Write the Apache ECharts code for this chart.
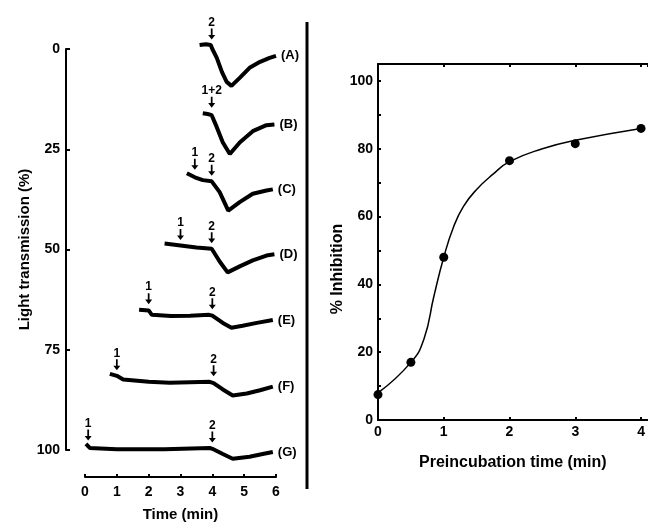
<!DOCTYPE html>
<html><head><meta charset="utf-8">
<script src="https://cdn.jsdelivr.net/npm/echarts@6/dist/echarts.min.js"></script>
<style>html,body{margin:0;padding:0;background:#fff}#c{width:648px;height:527px}</style>
</head><body><div id="c"></div>
<script>
// ---- Left panel: light transmission traces (time in min, transmission in %) ----
const traceLabels = ['(A)', '(B)', '(C)', '(D)', '(E)', '(F)', '(G)'];
const traceA = [[3.6,-1],[3.8,-1.2],[3.95,-1],[4.0,0],[4.14,2.2],[4.3,5.7],[4.45,8.2],[4.6,9.2],[4.86,7.2],[5.17,4.7],[5.5,3.2],[5.8,2.2],[6.0,1.7]];
const traceB = [[3.7,16],[3.85,16.2],[3.98,16.5],[4.13,19.3],[4.33,23.3],[4.55,26.2],[4.86,23.3],[5.27,20.5],[5.7,19],[5.95,18.8]];
const traceC = [[3.2,31],[3.45,32],[3.7,32.7],[3.98,33],[4.23,35.7],[4.5,40.3],[4.86,38.2],[5.27,36.1],[5.7,35.3],[5.9,35]];
const traceD = [[2.5,48.5],[3.0,49],[3.5,49.5],[3.98,49.8],[4.23,53],[4.48,55.7],[4.86,54.2],[5.27,52.7],[5.7,51.5],[5.95,51.2]];
const traceE = [[1.7,65],[2.0,65.2],[2.1,66.3],[2.7,66.6],[3.3,66.5],[3.9,66.3],[4.0,66.5],[4.33,68.3],[4.6,69.5],[4.95,69],[5.4,68.3],[5.9,67.6]];
const traceF = [[0.78,81],[1.0,81.5],[1.2,82.4],[2.0,83],[2.66,83.2],[3.3,83.1],[3.92,83],[4.04,83.3],[4.33,84.9],[4.64,86.4],[5.08,85.9],[5.5,85.1],[5.9,84.2]];
const traceG = [[0.03,98.5],[0.15,99.5],[1,99.8],[2.5,99.8],[3.92,99.5],[4.0,99.7],[4.33,101],[4.64,102.2],[5.17,101.7],[5.58,101],[5.9,100.5]];
const traces = [traceA, traceB, traceC, traceD, traceE, traceF, traceG];
// arrows: [time, transmission at trace, label]
const arrows = [
  [3.98,-1,'2'],
  [3.98,16,'1+2'],
  [3.45,31.5,'1'],[3.98,33,'2'],
  [3.0,49,'1'],[3.98,49.8,'2'],
  [2.0,65,'1'],[4.0,66.3,'2'],
  [1.0,81.5,'1'],[4.04,83,'2'],
  [0.1,99,'1'],[4.0,99.5,'2']
];
const leftXTicks = [0,1,2,3,4,5,6];
const leftYTicks = [0,25,50,75,100];

// ---- Right panel: % inhibition vs preincubation time ----
const preTime = [0, 0.5, 1, 2, 3, 4];
const inhibition = [7.5, 17, 48, 76.5, 81.5, 86];
const curveT = [0,0.5,0.7,0.85,1,1.15,1.3,1.5,1.75,2,2.5,3,4];
const curveV = [8,17,24,36.5,48,57,63,68,72.5,76.2,80,82.5,86];

const FONT = "'Liberation Sans', Arial, sans-serif";
const txt = (size) => ({color:'#000', fontFamily:FONT, fontWeight:'bold', fontSize:size});
const axisLine = {show:true, onZero:false, lineStyle:{color:'#000', width:2}};

const series = [];
traces.forEach((tr, i) => {
  series.push({
    type:'line', xAxisIndex:0, yAxisIndex:0, data:tr, showSymbol:false, clip:false,
    lineStyle:{color:'#000', width:4}, silent:true,
    endLabel:{show:true, formatter:traceLabels[i], distance:5, ...txt(13)}
  });
});
series.push({
  type:'scatter', xAxisIndex:0, yAxisIndex:0, clip:false, silent:true,
  data: arrows.map(a => ({value:[a[0], a[1]], name:a[2]})),
  symbol:'path://M3,0L5,0L5,7L8,7L4,12L0,7L3,7Z', symbolSize:[7,11], symbolOffset:[0,-11],
  itemStyle:{color:'#000', opacity:1},
  label:{show:true, position:'top', distance:0, formatter:p => p.name, ...txt(12)}
});
series.push({
  type:'line', xAxisIndex:1, yAxisIndex:1, data:curveT.map((t,i)=>[t,curveV[i]]),
  showSymbol:false, smooth:0.5, lineStyle:{color:'#000', width:1.5}, silent:true
});
series.push({
  type:'scatter', xAxisIndex:1, yAxisIndex:1, data:preTime.map((t,i)=>[t,inhibition[i]]),
  symbol:'circle', symbolSize:9, itemStyle:{color:'#000', opacity:1}, silent:true
});

const chart = echarts.init(document.getElementById('c'), null, {renderer:'canvas'});
chart.setOption({
  animation:false,
  backgroundColor:'#fff',
  grid:[
    {left:85, right:372, top:49, bottom:74},
    {left:378, right:0.4, top:64, bottom:107}
  ],
  xAxis:[
    {gridIndex:0, type:'value', position:'bottom', min:leftXTicks[0], max:leftXTicks[leftXTicks.length-1], interval:1, offset:27,
     axisLine:axisLine, axisTick:{show:true, inside:true, length:3, lineStyle:{width:2, color:'#000'}},
     axisLabel:{margin:8, ...txt(14)}, splitLine:{show:false},
     name:'Time (min)', nameLocation:'middle', nameGap:30, nameTextStyle:txt(15)},
    {gridIndex:1, type:'value', position:'bottom', min:0, max:4.1, interval:1,
     axisLine:axisLine, axisTick:{show:true, inside:true, length:3, lineStyle:{width:2, color:'#000'}},
     axisLabel:{margin:5, showMaxLabel:false, ...txt(14)}, splitLine:{show:false},
     name:'Preincubation time (min)', nameLocation:'middle', nameGap:35, nameTextStyle:txt(16)},
    {gridIndex:1, type:'value', position:'top', min:0, max:4.1, interval:1,
     axisLine:axisLine, axisTick:{show:true, inside:true, length:3, lineStyle:{width:2, color:'#000'}},
     axisLabel:{show:false}, splitLine:{show:false}}
  ],
  yAxis:[
    {gridIndex:0, type:'value', position:'left', inverse:true, min:leftYTicks[0], max:leftYTicks[leftYTicks.length-1], interval:25, offset:19,
     axisLine:axisLine, axisTick:{show:true, inside:true, length:4, lineStyle:{width:2, color:'#000'}},
     axisLabel:{margin:6, ...txt(14)}, splitLine:{show:false},
     name:'Light transmission (%)', nameLocation:'middle', nameGap:34, nameTextStyle:txt(15)},
    {gridIndex:1, type:'value', position:'left', min:0, max:105, interval:20,
     axisLine:axisLine, axisTick:{show:true, inside:true, length:3, lineStyle:{width:2, color:'#000'}},
     minorTick:{show:true, splitNumber:2, length:3, lineStyle:{width:2, color:'#000'}},
     axisLabel:{margin:5, showMaxLabel:false, ...txt(14)}, splitLine:{show:false},
     name:'% Inhibition', nameLocation:'middle', nameGap:25, nameTextStyle:{...txt(16), padding:[0,54,0,0]}}
  ],
  graphic:[
    {type:'line', shape:{x1:307, y1:22, x2:307, y2:489}, style:{stroke:'#000', lineWidth:3}}
  ],
  series:series
});
</script>
</body></html>
